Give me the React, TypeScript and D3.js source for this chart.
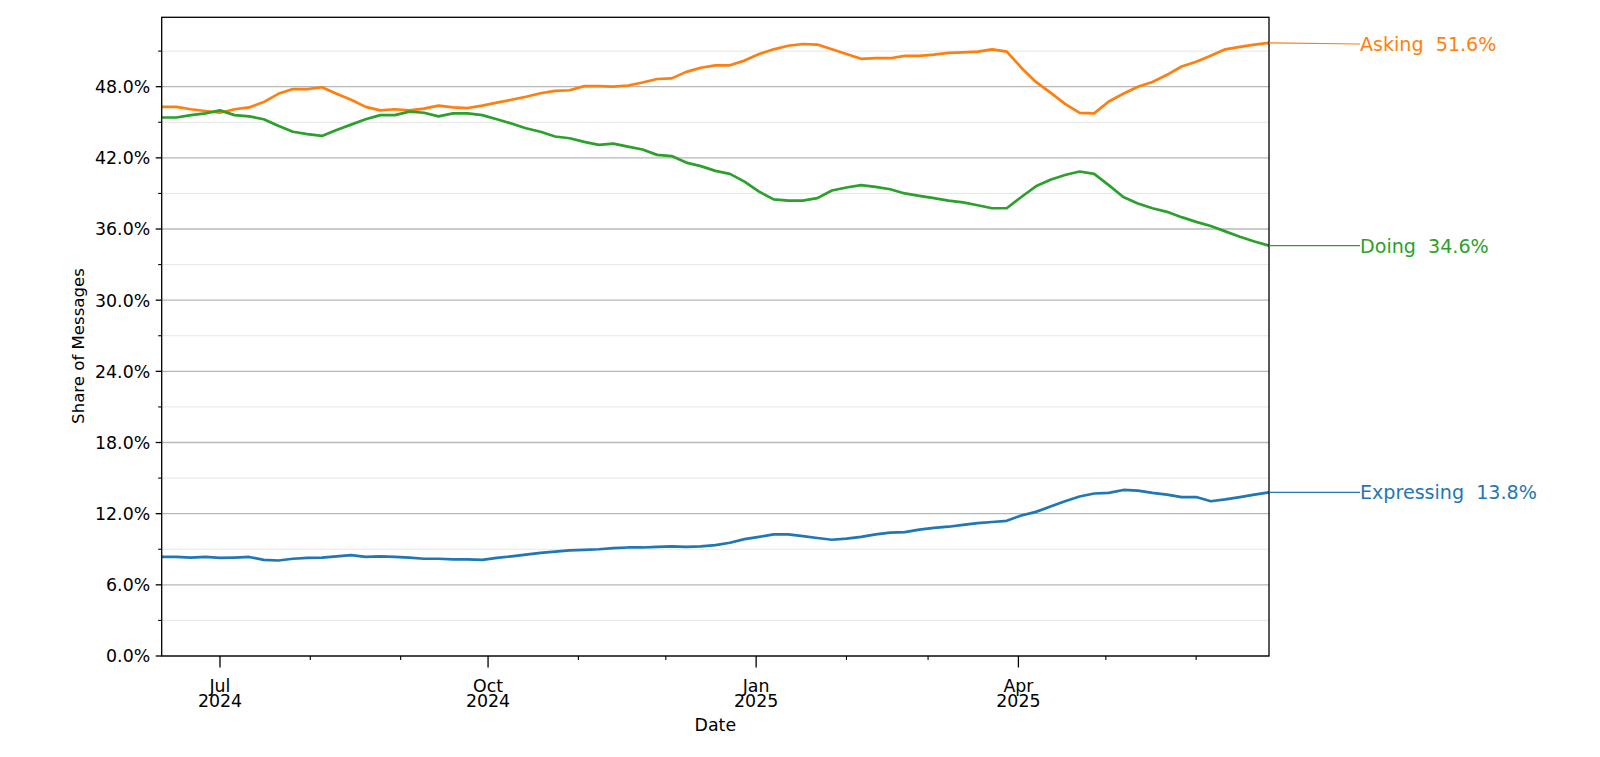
import React from "react";
import * as d3 from "d3";

// ---- data ----
const START_DATE = "2024-06-11";
const END_DATE = "2025-06-26";
const STEP_DAYS = 5;

const askingValues = [
  46.3, 46.3, 46.1, 45.95, 45.8, 46.1, 46.25, 46.7, 47.4, 47.8, 47.8, 47.95, 47.4, 46.9, 46.3, 46.0,
  46.1, 46.0, 46.15, 46.4, 46.25, 46.2, 46.4, 46.65, 46.9, 47.15,
  47.45, 47.65, 47.7, 48.05, 48.05, 48.0, 48.1, 48.35, 48.65, 48.7, 49.25, 49.6, 49.8, 49.8, 50.2,
  50.75, 51.15, 51.45, 51.6, 51.55, 51.15, 50.75, 50.35, 50.4, 50.4,
  50.6, 50.6, 50.7, 50.85, 50.9, 50.95, 51.15, 50.95, 49.6, 48.4, 47.5, 46.55, 45.8, 45.75, 46.75,
  47.4, 48.0, 48.4, 49.0, 49.7, 50.1, 50.6, 51.15, 51.35, 51.55, 51.7,
];

const doingValues = [
  45.4, 45.4, 45.6, 45.75, 46.0, 45.6, 45.5, 45.25, 44.7, 44.2, 44.0, 43.85, 44.35, 44.8, 45.25, 45.6,
  45.6, 45.9, 45.8, 45.5, 45.75, 45.75, 45.6, 45.25, 44.9, 44.5,
  44.2, 43.8, 43.65, 43.35, 43.1, 43.2, 42.95, 42.7, 42.25, 42.15, 41.6, 41.3, 40.9, 40.65, 40.0,
  39.15, 38.5, 38.4, 38.4, 38.6, 39.25, 39.5, 39.7, 39.55, 39.35,
  39.0, 38.8, 38.6, 38.4, 38.25, 38.0, 37.75, 37.75, 38.7, 39.6, 40.15, 40.55, 40.85, 40.65, 39.7,
  38.7, 38.15, 37.75, 37.45, 37.0, 36.6, 36.25, 35.8, 35.35, 34.95, 34.6,
];

const expressingValues = [
  8.35, 8.35, 8.3, 8.35, 8.27, 8.3, 8.35, 8.1, 8.05, 8.2, 8.27, 8.3, 8.4, 8.5, 8.35, 8.4,
  8.35, 8.3, 8.2, 8.2, 8.15, 8.15, 8.1, 8.27, 8.4, 8.55,
  8.7, 8.8, 8.9, 8.95, 9.0, 9.1, 9.15, 9.15, 9.2, 9.25, 9.2, 9.25, 9.35, 9.55, 9.85,
  10.05, 10.25, 10.25, 10.1, 9.95, 9.8, 9.9, 10.05, 10.25, 10.4,
  10.45, 10.65, 10.8, 10.9, 11.05, 11.2, 11.3, 11.4, 11.85, 12.15, 12.6, 13.05, 13.45, 13.7, 13.75,
  14.0, 13.95, 13.75, 13.6, 13.4, 13.4, 13.05, 13.2, 13.4, 13.6, 13.8,
];

const seriesNames = ["Asking", "Doing", "Expressing"];
const seriesColors = ["#ff7f0e", "#2ca02c", "#1f77b4"];
const labelValues = [51.6, 34.6, 13.8];
const yMajorTicks = [0, 6, 12, 18, 24, 30, 36, 42, 48];
const yMinorTicks = [3, 9, 15, 21, 27, 33, 39, 45, 51];
const Y_MAX = 53.85;

// ---- layout ----
const W = 1600;
const H = 757;
const M = { left: 161.7, right: 1269, top: 17.3, bottom: 656 };
const FONT = "DejaVu Sans, sans-serif";
const FS = 17.36;
const FS_YLABEL = 16.6;
const FS_LABEL = 19.1;

const parse = (s: string) => {
  const [y, m, d] = s.split("-").map(Number);
  return new Date(Date.UTC(y, m - 1, d));
};

export default function App() {
  const start = parse(START_DATE);
  const end = parse(END_DATE);
  const dates = askingValues.map((_, i) => d3.utcDay.offset(start, i * STEP_DAYS));

  const x = d3.scaleUtc().domain([start, end]).range([M.left, M.right]);
  const y = d3.scaleLinear().domain([0, Y_MAX]).range([M.bottom, M.top]);

  const allSeries = [askingValues, doingValues, expressingValues];
  const line = d3
    .line<number>()
    .x((_, i) => x(dates[i]))
    .y((v) => y(v));

  const majorX = d3.utcMonth.every(3)!.range(start, d3.utcDay.offset(end, 1));
  const allMonths = d3.utcMonth.range(start, d3.utcDay.offset(end, 1));
  const minorX = allMonths.filter((m) => !majorX.some((t) => +t === +m));
  const fmtMonth = d3.utcFormat("%b");
  const fmtYear = d3.utcFormat("%Y");

  const labelX = 1360;

  return (
    <svg
      width={W}
      height={H}
      viewBox={`0 0 ${W} ${H}`}
      style={{ position: "absolute", left: 0, top: 0, display: "block", background: "#fff" }}
      fontFamily={FONT}
    >
      <rect x={0} y={0} width={W} height={H} fill="#fff" />
      {/* minor grid */}
      {yMinorTicks.map((t) => (
        <line key={"mg" + t} x1={M.left} x2={M.right} y1={y(t)} y2={y(t)} stroke="#e6e6e6" strokeWidth={1} />
      ))}
      {/* major grid */}
      {yMajorTicks.map((t) => (
        <line key={"Mg" + t} x1={M.left} x2={M.right} y1={y(t)} y2={y(t)} stroke="#b8b8b8" strokeWidth={1.3} />
      ))}

      {/* series lines */}
      {allSeries.map((vals, si) => (
        <path
          key={seriesNames[si]}
          d={line(vals) || ""}
          fill="none"
          stroke={seriesColors[si]}
          strokeWidth={2.7}
          strokeLinejoin="round"
          strokeLinecap="butt"
        />
      ))}

      {/* spines */}
      <rect
        x={M.left}
        y={M.top}
        width={M.right - M.left}
        height={M.bottom - M.top}
        fill="none"
        stroke="#000"
        strokeWidth={1.3}
      />

      {/* y ticks */}
      {yMajorTicks.map((t) => (
        <g key={"yt" + t}>
          <line x1={M.left - 6} x2={M.left} y1={y(t)} y2={y(t)} stroke="#000" strokeWidth={1.3} />
          <text x={M.left - 11.5} y={y(t) + 0.3645 * FS} textAnchor="end" fontSize={FS} fill="#000">
            {t.toFixed(1) + "%"}
          </text>
        </g>
      ))}
      {yMinorTicks.map((t) => (
        <line key={"ym" + t} x1={M.left - 3.5} x2={M.left} y1={y(t)} y2={y(t)} stroke="#000" strokeWidth={1.1} />
      ))}

      {/* x ticks */}
      {majorX.map((d) => (
        <g key={"xt" + +d}>
          <line x1={x(d)} x2={x(d)} y1={M.bottom} y2={M.bottom + 11.5} stroke="#000" strokeWidth={1.3} />
          <text textAnchor="middle" fontSize={FS} fill="#000">
            <tspan x={x(d)} y={691.7}>
              {fmtMonth(d)}
            </tspan>
            <tspan x={x(d)} y={706.7}>
              {fmtYear(d)}
            </tspan>
          </text>
        </g>
      ))}
      {minorX.map((d) => (
        <line key={"xm" + +d} x1={x(d)} x2={x(d)} y1={M.bottom} y2={M.bottom + 4} stroke="#000" strokeWidth={1.1} />
      ))}

      {/* axis labels */}
      <text x={(M.left + M.right) / 2} y={731} textAnchor="middle" fontSize={FS} fill="#000">
        Date
      </text>
      <text
        transform={`translate(${84}, ${346}) rotate(-90)`}
        textAnchor="middle"
        fontSize={FS_YLABEL}
        fill="#000"
      >
        Share of Messages
      </text>

      {/* end labels */}
      {allSeries.map((vals, si) => {
        const lastY = y(vals[vals.length - 1]);
        const ly = y(labelValues[si]);
        return (
          <g key={"lab" + si}>
            <line x1={M.right} y1={lastY} x2={labelX} y2={ly} stroke={seriesColors[si]} strokeWidth={1.2} />
            <text x={labelX} y={ly + 0.3645 * FS_LABEL} fontSize={FS_LABEL} fill={seriesColors[si]}>
              {`${seriesNames[si]}\u00a0\u00a0${labelValues[si].toFixed(1)}%`}
            </text>
          </g>
        );
      })}
    </svg>
  );
}
